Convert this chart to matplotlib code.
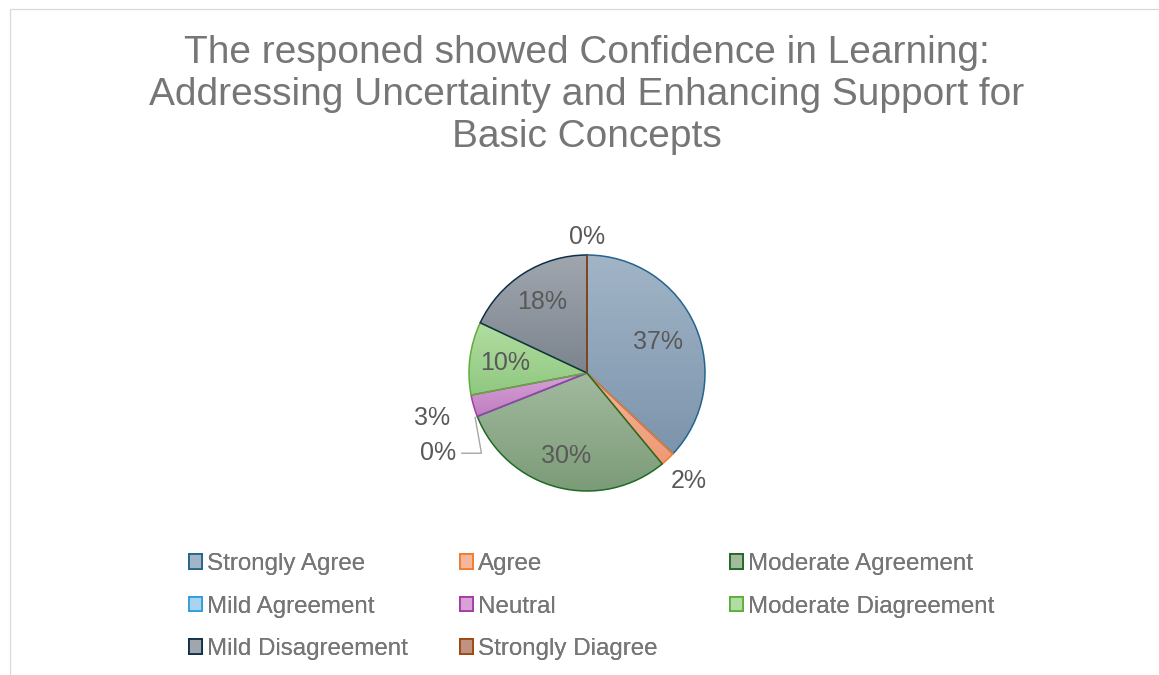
import numpy as np
import matplotlib.pyplot as plt
from matplotlib.patches import Patch, Rectangle
from matplotlib.colors import LinearSegmentedColormap

plt.rcParams['font.family'] = ['Liberation Sans', 'DejaVu Sans']

# Respuestas de la encuesta (porcentaje)
categorias = ["Strongly Agree", "Agree", "Moderate Agreement", "Mild Agreement",
              "Neutral", "Moderate Diagreement", "Mild Disagreement", "Strongly Diagree"]
porcentajes = [37, 2, 30, 0, 3, 10, 18, 0]

titulo = ("The responed showed Confidence in Learning:\n"
          "Addressing Uncertainty and Enhancing Support for\n"
          "Basic Concepts")

# colores: (claro arriba, oscuro abajo, borde)
colores = [
    ("#A2B5C7", "#7C94AC", "#22658E"),
    ("#F7B59C", "#F09874", "#ED7D31"),
    ("#A3BA9F", "#7B9B77", "#1E6B25"),
    ("#AAD3F0", "#86BEE6", "#2E9FD8"),
    ("#D8A2D8", "#BF7FBF", "#A43CA4"),
    ("#B2DDA2", "#90C880", "#5DAE3B"),
    ("#A0A6AE", "#7C848E", "#0E3048"),
    ("#C09282", "#A46E5E", "#9E480E"),
]
# posicion radial de cada etiqueta (fraccion del radio)
radio_etiqueta = [0.66, 1.26, 0.73, None, 1.37, 0.70, 0.71, 1.15]

W, H = 1159, 675
fig = plt.figure(figsize=(W / 100, H / 100), dpi=100)

# marco gris claro del grafico
fig.add_artist(Rectangle((10 / W, -0.1), 1.2, (H - 9) / H + 0.1, transform=fig.transFigure,
                         fill=False, edgecolor="#D9D9D9", linewidth=0.9))

fig.text(587 / W, 1 - 35 / H, titulo, ha="center", va="top", fontsize=28,
         color="#767676", linespacing=1.21)

cx, cy, R = 587, H - 373, 118
lado = 320
ax = fig.add_axes([(cx - lado / 2) / W, (cy - lado / 2) / H, lado / W, lado / H])
L = lado / 2 / R

wedges, _ = ax.pie(porcentajes, startangle=90, counterclock=False, radius=1,
                   wedgeprops=dict(linewidth=1.1, facecolor="none"))
for w, (c1, c2, ce) in zip(wedges, colores):
    w.set_edgecolor(ce)
    w.set_zorder(3)

# relleno en degradado vertical para cada sector
grad = np.linspace(0, 1, 256).reshape(-1, 1)
for w, (c1, c2, ce), p in zip(wedges, colores, porcentajes):
    if p == 0:
        continue
    v = w.get_path().vertices
    x0, x1 = v[:, 0].min(), v[:, 0].max()
    y0, y1 = v[:, 1].min(), v[:, 1].max()
    cmap = LinearSegmentedColormap.from_list("g", [c1, c2])
    im = ax.imshow(grad, cmap=cmap, extent=[x0, x1, y0, y1], origin="upper",
                   aspect="auto", zorder=2)
    im.set_clip_path(w)

ax.set_xlim(-L, L)
ax.set_ylim(-L, L)
ax.set_aspect("equal")
ax.axis("off")

# etiquetas de datos
for w, p, r in zip(wedges, porcentajes, radio_etiqueta):
    ang = np.deg2rad((w.theta1 + w.theta2) / 2)
    if r is None:
        # sector vacio: etiqueta desplazada con linea guia
        ax.annotate(f"{p}%", xy=(np.cos(ang) * 1.02, np.sin(ang) * 1.02),
                    xytext=(-1.11, -0.68), ha="right", va="center", fontsize=18,
                    color="#595959",
                    arrowprops=dict(arrowstyle="-", color="#A6A6A6", lw=1.0,
                                    connectionstyle="angle,angleA=0,angleB=-80,rad=0",
                                    shrinkA=2, shrinkB=0))
        continue
    ax.text(np.cos(ang) * r, np.sin(ang) * r, f"{p}%", ha="center", va="center",
            fontsize=18, color="#595959", zorder=5)

# leyenda en tres columnas
handles = [Patch(facecolor=c1, edgecolor=ce, linewidth=1.3) for c1, c2, ce in colores]
columnas = [[0, 3, 6], [1, 4, 7], [2, 5]]
x_col = [189, 460, 730]
for xc, idx in zip(x_col, columnas):
    leg = fig.legend([handles[i] for i in idx], [categorias[i] for i in idx],
                     loc="upper left", bbox_to_anchor=(xc / W, 1 - 553 / H), frameon=False,
                     fontsize=17.4, handlelength=0.55, handleheight=0.55, handletextpad=0.2,
                     labelspacing=0.85, borderpad=0, borderaxespad=0, labelcolor="#767676")
    fig.add_artist(leg)

fig.savefig("out.png", dpi=100)
